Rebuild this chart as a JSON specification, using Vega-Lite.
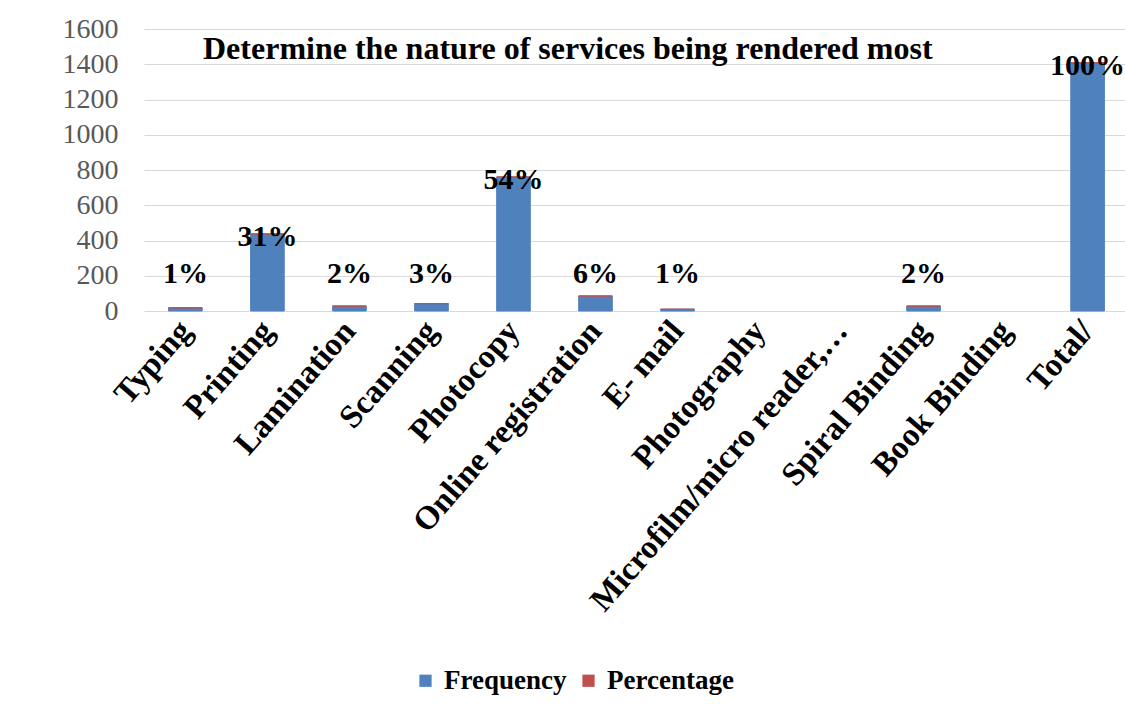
{
  "$schema": "https://vega.github.io/schema/vega-lite/v6.json",
  "autosize": {"type": "none"},
  "padding": {"left": 144, "top": 29, "right": 0, "bottom": 399},
  "width": 985,
  "height": 282,
  "background": "white",
  "config": {
    "view": {"stroke": null},
    "font": "Liberation Serif",
    "axisY": {
      "title": null,
      "values": [0, 200, 400, 600, 800, 1000, 1200, 1400, 1600],
      "format": "d",
      "labelOverlap": false,
      "grid": true,
      "gridColor": "#D9D9D9",
      "gridWidth": 1,
      "domain": false,
      "ticks": false,
      "labelFont": "Liberation Serif",
      "labelFontSize": 28,
      "labelColor": "#595959",
      "labelPadding": 26
    }
  },
  "title": {
    "text": "Determine the nature of services  being rendered most",
    "font": "Liberation Serif",
    "fontSize": 32,
    "fontWeight": "bold",
    "color": "black",
    "anchor": "start",
    "frame": "group",
    "dx": 59,
    "offset": -66,
    "baseline": "middle"
  },
  "data": {
    "values": [
      {"Service": "Typing", "Frequency": 18, "Percentage": 0.01, "Label": "1%"},
      {"Service": "Printing", "Frequency": 437, "Percentage": 0.31, "Label": "31%"},
      {"Service": "Lamination", "Frequency": 28, "Percentage": 0.02, "Label": "2%"},
      {"Service": "Scanning", "Frequency": 42, "Percentage": 0.03, "Label": "3%"},
      {"Service": "Photocopy", "Frequency": 760, "Percentage": 0.54, "Label": "54%"},
      {"Service": "Online registration", "Frequency": 85, "Percentage": 0.06, "Label": "6%"},
      {"Service": "E- mail", "Frequency": 10, "Percentage": 0.01, "Label": "1%"},
      {"Service": "Photography", "Frequency": 0, "Percentage": 0, "Label": ""},
      {"Service": "Microfilm/micro reader,…", "Frequency": 0, "Percentage": 0, "Label": ""},
      {"Service": "Spiral Binding", "Frequency": 28, "Percentage": 0.02, "Label": "2%"},
      {"Service": "Book Binding", "Frequency": 0, "Percentage": 0, "Label": ""},
      {"Service": "Total/", "Frequency": 1408, "Percentage": 1, "Label": "100%"}
    ]
  },
  "encoding": {
    "x": {
      "field": "Service",
      "type": "nominal",
      "sort": null,
      "scale": {
        "domain": ["Typing", "Printing", "Lamination", "Scanning", "Photocopy", "Online registration", "E- mail", "Photography", "Microfilm/micro reader,…", "Spiral Binding", "Book Binding", "Total/"],
        "paddingInner": 0.59,
        "paddingOuter": 0.3
      },
      "axis": {
        "title": null,
        "labelAngle": -49,
        "labelAlign": "right",
        "labelBaseline": "middle",
        "labelFont": "Liberation Serif",
        "labelFontSize": 33,
        "labelFontWeight": "bold",
        "labelColor": "black",
        "labelPadding": 14,
        "ticks": false,
        "domain": false,
        "labelLimit": 500,
        "labelOverlap": false
      }
    }
  },
  "layer": [
    {
      "transform": [
        {"fold": ["Frequency", "Percentage"], "as": ["Series", "Value"]},
        {"filter": "datum.Value > 0"}
      ],
      "mark": {"type": "bar", "strokeWidth": 1},
      "encoding": {
        "y": {
          "field": "Value",
          "type": "quantitative",
          "stack": "zero",
          "scale": {"domain": [0, 1600]}
        },
        "color": {
          "field": "Series",
          "type": "nominal",
          "scale": {"domain": ["Frequency", "Percentage"], "range": ["#4F81BD", "#C0504D"]},
          "legend": {
            "title": null,
            "orient": "none",
            "direction": "horizontal",
            "legendX": 268,
            "legendY": 638,
            "symbolType": "square",
            "symbolSize": 150,
            "symbolStrokeWidth": 0,
            "labelFont": "Liberation Serif",
            "labelFontSize": 27,
            "labelFontWeight": "bold",
            "labelColor": "black",
            "columnPadding": 8,
            "labelOffset": 5
          }
        },
        "stroke": {"field": "Series", "type": "nominal", "scale": {"domain": ["Frequency", "Percentage"], "range": ["#4F81BD", "#C0504D"]}, "legend": null},
        "order": {"field": "Series", "sort": "ascending"}
      }
    },
    {
      "transform": [{"filter": "datum.Percentage > 0 && datum.Frequency < 200"}],
      "mark": {"type": "text", "font": "Liberation Serif", "fontSize": 30, "fontWeight": "bold", "color": "black", "baseline": "middle"},
      "encoding": {
        "y": {"datum": 210, "type": "quantitative"},
        "text": {"field": "Label"}
      }
    },
    {
      "transform": [{"filter": "datum.Percentage > 0 && datum.Frequency >= 200"}],
      "mark": {"type": "text", "font": "Liberation Serif", "fontSize": 30, "fontWeight": "bold", "color": "black", "baseline": "middle", "dy": 3},
      "encoding": {
        "y": {"field": "Frequency", "type": "quantitative"},
        "text": {"field": "Label"}
      }
    }
  ]
}
